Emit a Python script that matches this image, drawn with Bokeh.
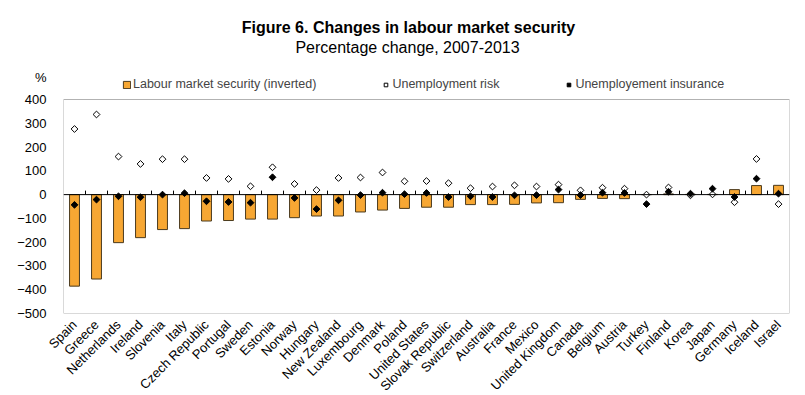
import math
from bokeh.plotting import figure
from bokeh.models import (ColumnDataSource, Range1d, FixedTicker, Span, BoxAnnotation,
                          Legend, LegendItem, Label)
from bokeh.embed import file_html
from bokeh.resources import INLINE

countries = ["Spain", "Greece", "Netherlands", "Ireland", "Slovenia", "Italy", "Czech Republic",
             "Portugal", "Sweden", "Estonia", "Norway", "Hungary", "New Zealand", "Luxembourg",
             "Denmark", "Poland", "United States", "Slovak Republic", "Switzerland", "Australia",
             "France", "Mexico", "United Kingdom", "Canada", "Belgium", "Austria", "Turkey",
             "Finland", "Korea", "Japan", "Germany", "Iceland", "Israel"]
labour_security = [-385, -355, -202, -181, -147, -143, -111, -109, -103, -103, -97, -90, -90, -73,
                   -65, -58, -53, -53, -42, -42, -41, -35, -34, -20, -16, -17, 0, 3, 1, 1, 21, 38, 39]
unemployment_risk = [276, 337, 160, 129, 149, 149, 70, 66, 35, 115, 45, 19, 70, 72, 93, 56, 57, 48,
                     27, 34, 39, 34, 42, 18, 29, 25, 0, 30, -3, 1, -32, 150, -40]
unemployment_insurance = [-43, -21, -7, -11, 0, 6, -28, -31, -34, 73, -14, -61, -24, -2, 8, 2, 7,
                          -10, -7, -10, -3, -2, 21, -2, 8, 7, -40, 12, 4, 25, -10, 67, 4]
y_ticks = [-500, -400, -300, -200, -100, 0, 100, 200, 300, 400]
title_text = "Figure 6. Changes in labour market security"
subtitle_text = "Percentage change, 2007-2013"
unit_text = "%"

FONT = "Liberation Sans"
n = len(countries)
xpos = [i + 0.5 for i in range(n)]
boundaries = list(range(1, n))

# layout in pixels
BOX_W, BOX_H = 726, 214          # the plotted box
TOP_PX = 91                      # room above the box for titles and legend
PX = (y_ticks[-1] - y_ticks[0]) / BOX_H   # data units per pixel
y_top = y_ticks[-1] + TOP_PX * PX
unit_y = y_ticks[-1] + 22 * PX

src = ColumnDataSource(dict(x=xpos, country=countries, labour=labour_security,
                            risk=unemployment_risk, insurance=unemployment_insurance))

p = figure(frame_width=BOX_W, frame_height=BOX_H + TOP_PX, x_range=Range1d(0, n),
           y_range=Range1d(y_ticks[0], y_top), output_backend="svg",
           toolbar_location=None, title=None, min_border_right=16, min_border_left=63,
           min_border_top=8, min_border_bottom=0)

# plot box
p.add_layout(BoxAnnotation(left=0, right=n, bottom=y_ticks[0], top=y_ticks[-1],
                           fill_alpha=0, line_color="black", line_width=1))

bars = p.vbar(x="x", top="labour", bottom=0, width=0.45, source=src,
              fill_color="#F7A733", line_color="#4A3A1E", line_width=1)

# zero line and small ticks between categories
p.add_layout(Span(location=0, dimension="width", line_color="black", line_width=1))
tick_len = 4 * PX
p.segment(x0=boundaries, x1=boundaries, y0=[0] * len(boundaries),
          y1=[tick_len] * len(boundaries), line_color="black", line_width=1)

risk_r = p.scatter(x="x", y="risk", source=src, marker="square", angle=math.pi / 4,
                   size=4.8, fill_color="white", line_color="black", line_width=1)
ins_r = p.scatter(x="x", y="insurance", source=src, marker="square", angle=math.pi / 4,
                  size=4.8, fill_color="black", line_color="black", line_width=1)

p.xgrid.visible = False
p.ygrid.visible = False
p.outline_line_color = None
p.background_fill_color = "white"
p.border_fill_color = "white"

xa = p.xaxis[0]
xa.ticker = FixedTicker(ticks=xpos)
xa.major_label_overrides = {x: c for x, c in zip(xpos, countries)}
xa.major_label_orientation = math.pi / 4
xa.major_label_text_font = FONT
xa.major_label_text_font_size = "13px"
xa.major_label_text_color = "black"
xa.major_tick_line_color = None
xa.minor_tick_line_color = None
xa.axis_line_color = None
xa.major_label_standoff = 3

ya = p.yaxis[0]
ya.ticker = FixedTicker(ticks=y_ticks + [unit_y])
ya.major_label_overrides = {unit_y: unit_text}
ya.major_label_text_font = FONT
ya.major_label_text_font_size = "13px"
ya.major_label_text_color = "black"
ya.major_tick_line_color = None
ya.minor_tick_line_color = None
ya.axis_line_color = None
ya.major_label_standoff = 11

legend = Legend(items=[
    LegendItem(label="Labour market security (inverted)", renderers=[bars]),
    LegendItem(label="Unemployment risk", renderers=[risk_r]),
    LegendItem(label="Unemployement insurance", renderers=[ins_r]),
], orientation="horizontal", location=(59, BOX_H + 8), glyph_width=9, glyph_height=9,
   label_height=12, label_standoff=2, spacing=65, padding=2, margin=0,
   label_text_font=FONT, label_text_font_size="12.5px", border_line_color=None,
   background_fill_alpha=0)
p.add_layout(legend, "center")

p.add_layout(Label(x=0, y=y_ticks[-1], x_offset=345, y_offset=72, text=title_text,
                   text_align="center", text_baseline="middle", text_font=FONT,
                   text_font_size="16px", text_font_style="bold", text_color="black"))
p.add_layout(Label(x=0, y=y_ticks[-1], x_offset=344, y_offset=52, text=subtitle_text,
                   text_align="center", text_baseline="middle", text_font=FONT,
                   text_font_size="16px", text_font_style="normal", text_color="black"))

open("out.html", "w").write(file_html(p, INLINE))
